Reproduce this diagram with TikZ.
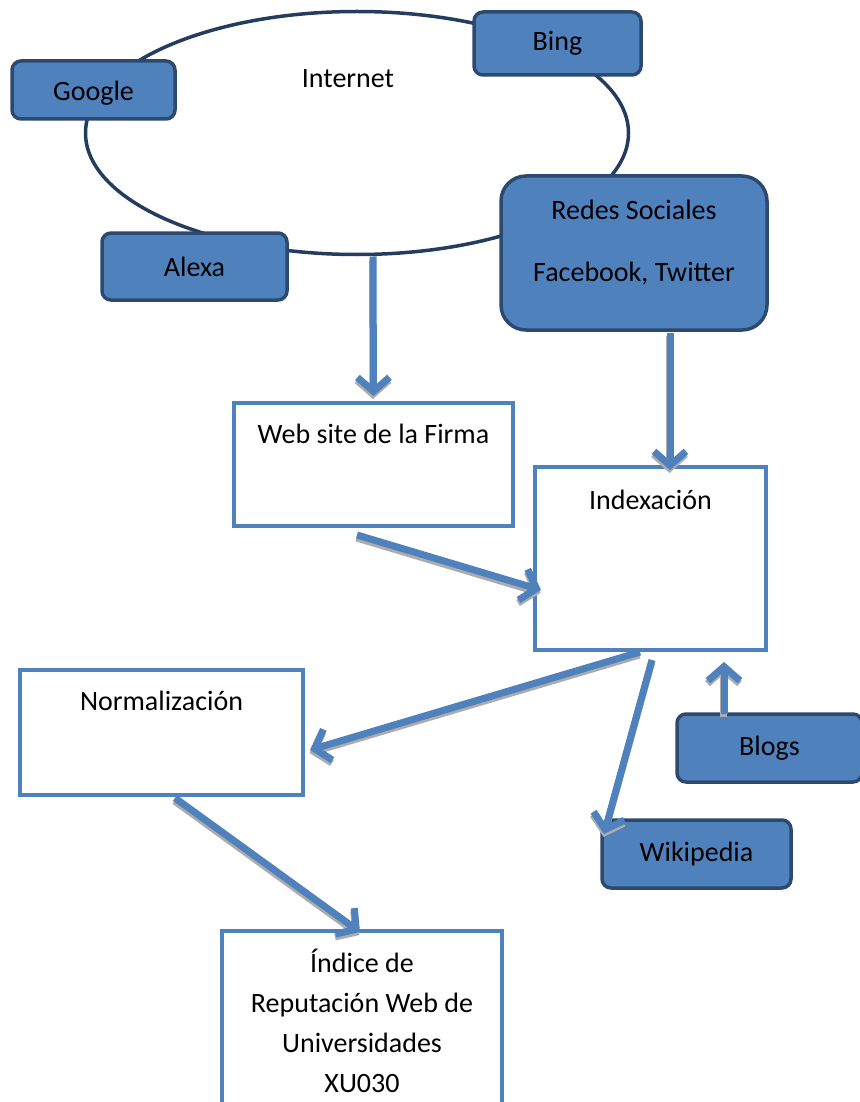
\documentclass[tikz,border=0pt]{standalone}
\usepackage{fontspec}
\setmainfont{Carlito}
\newcommand*{\diagfont}{\fontsize{28}{40}\selectfont}
\definecolor{B}{RGB}{79,129,189}
\definecolor{D}{RGB}{44,74,112}
\definecolor{E}{RGB}{36,60,94}
\usetikzlibrary{arrows.meta}
\usetikzlibrary{shapes.geometric}
\tikzstyle{base}=[x=1pt, y=-1pt, inner sep=0pt, outer sep=0pt, font=\diagfont]
\tikzstyle{engine}=[draw=D, fill=B, line width=3.5pt, rounded corners=9pt]
\tikzstyle{stage}=[draw=B, fill=white, line width=4pt]
\tikzstyle{flow}=[draw=B, line width=7pt, -{Straight Barb[length=14pt,width=32pt]}]
\tikzstyle{flowshadow}=[flow, draw=gray!65, transform canvas={shift={(-0.5pt,-3pt)}}]

\begin{document}
\begin{tikzpicture}[base]
    \useasboundingbox (0,0) rectangle (859,1102);
    % internet and its sources
    \node [draw=E, line width=3.5pt, ellipse, minimum width=543pt, minimum height=243pt] (net) at (357,133) {};
    \node (nettitle) at (348,79) {Internet};
    \node [engine, minimum width=163pt, minimum height=58pt,
        label={[name=googletxt, yshift=-3pt]center:Google}] (google) at (93.5,90) {};
    \node [engine, minimum width=167pt, minimum height=63pt] (bing) at (557.5,43.5) {Bing};
    \node [engine, minimum width=185pt, minimum height=67pt] (alexa) at (194.5,266.5) {Alexa};
    \node [engine, rounded corners=25pt, minimum width=266pt, minimum height=154pt,
        label={[name=redestxt, align=center, yshift=10pt]center:{Redes Sociales\\[22pt]Facebook, Twitter}}] (redes) at (634,253) {};
    % stages
    \node [stage, minimum width=279pt, minimum height=123pt,
        label={[name=webtxt, yshift=31pt]center:Web site de la Firma}] (web) at (373.5,464.5) {};
    \node [stage, minimum width=231pt, minimum height=183pt,
        label={[name=idxtxt, yshift=59pt]center:Indexación}] (idx) at (650.5,558.5) {};
    \node [stage, minimum width=283pt, minimum height=125pt,
        label={[name=normtxt, yshift=32pt]center:Normalización}] (norm) at (161.5,732.5) {};
    \node [stage, minimum width=280pt, minimum height=189pt,
        label={[name=indicetxt, align=center, yshift=5pt]center:{Índice de\\Reputación Web de\\Universidades\\XU030}}] (indice) at (362,1025.5) {};
    \node [engine, minimum width=185pt, minimum height=68pt] (blogs) at (769.5,748) {Blogs};
    \node [engine, minimum width=189pt, minimum height=68pt] (wiki) at (696.5,854) {Wikipedia};
    % flows, each with its grey shadow
    \foreach \from/\to in {
        {([shift={(16pt,-2pt)}]net.south)}/{([shift={(0pt,7pt)}]web.north)},
        {([shift={(36pt,-3pt)}]redes.south)}/{([shift={(19.5pt,-3pt)}]idx.north)},
        {([shift={(-16.5pt,-9pt)}]web.south)}/{([shift={(6pt,-31.5pt)}]idx.west)},
        {([shift={(-10.5pt,-2pt)}]idx.south)}/{([shift={(7pt,-17.5pt)}]norm.east)},
        {([shift={(1.5pt,-10pt)}]idx.south)}/{([shift={(2pt,-14pt)}]wiki.north west)},
        {([shift={(-45.5pt,0pt)}]blogs.north)}/{([shift={(73.5pt,-12pt)}]idx.south)},
        {([shift={(13.5pt,-3pt)}]norm.south)}/{([shift={(-2pt,-1pt)}]indice.north)}}
    {
        \draw [flowshadow] \from -- \to;
        \draw [flow] \from -- \to;
    }
\end{tikzpicture}
\end{document}
